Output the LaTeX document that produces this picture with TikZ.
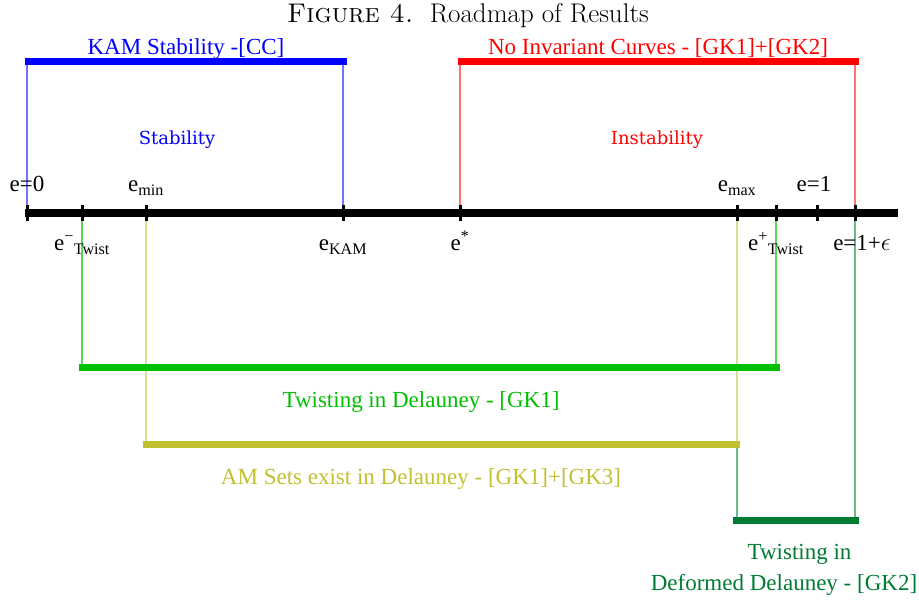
\documentclass[tikz,border=0pt]{standalone}
\usepackage{fontspec}
\setmainfont{Liberation Serif}
\newfontfamily\zonefont{DejaVu Serif}
\usepackage{tikz}
\usetikzlibrary{positioning,calc}
\definecolor{KamBlue}{RGB}{0,0,255}
\definecolor{InvRed}{RGB}{255,0,0}
\definecolor{TwistGreen}{RGB}{0,192,0}
\definecolor{AmOlive}{RGB}{192,192,48}
\definecolor{DeepGreen}{RGB}{0,124,50}
\newcommand{\labsize}{\fontsize{23}{31}\selectfont}

\begin{document}
\begin{tikzpicture}[x=1pt,y=-1pt,
  bar/.style={line width=7pt},
  link/.style={line width=1.4pt},
  tickmark/.style={line width=3pt},
  axlbl/.style={font=\labsize,inner sep=0pt,anchor=base},
  barlbl/.style={font=\labsize,inner sep=0pt,anchor=base,align=center}]
\useasboundingbox (0,0) rectangle (919,601);
\node[inner sep=0pt,anchor=base] (title) at (468,23)
  {\fontfamily{lmr}\selectfont\fontsize{27}{31}\selectfont\textsc{Figure 4.}\ \ Roadmap of Results};

% the axis
\coordinate (axL) at (25,213);
\coordinate (axR) at (898,213);
\foreach \n/\x in {t0/27,tw/82,tmin/146,tkam/343,tst/460,tmax/737,tpw/776,tone/817,teps/855}
  \coordinate (\n) at (\x,213);

% bars
\coordinate (kamL) at (25,62);   \coordinate (kamR) at (347,62);
\coordinate (invL) at (458,62);  \coordinate (invR) at (859,62);
\coordinate (twL) at (79,368);   \coordinate (twR) at (780,368);
\coordinate (amL) at (143,445);  \coordinate (amR) at (740,445);
\coordinate (dfL) at (733,521);  \coordinate (dfR) at (859,521);

% links from the axis to the bars
\draw[link,KamBlue!55] (t0) -- (t0 |- kamL);
\draw[link,KamBlue!55] (tkam) -- (tkam |- kamR);
\draw[link,InvRed!55] (tst) -- (tst |- invL);
\draw[link,InvRed!55] (teps) -- (teps |- invR);
\draw[link,TwistGreen!65] (tw) -- (tw |- twL);
\draw[link,TwistGreen!65] (tpw) -- (tpw |- twR);
\draw[link,DeepGreen!55] (tmax) -- (tmax |- dfL);
\draw[link,DeepGreen!55] (teps) -- (teps |- dfR);
\draw[link,AmOlive!55] (tmin) -- (tmin |- amL);
\draw[link,AmOlive!55] (tmax) -- (tmax |- amR);

\draw[bar,KamBlue] (kamL) -- (kamR);
\draw[bar,InvRed] (invL) -- (invR);
\draw[bar,TwistGreen] (twL) -- (twR);
\draw[bar,AmOlive] (amL) -- (amR);
\draw[bar,DeepGreen] (dfL) -- (dfR);

\draw[line width=8pt] (axL) -- (axR);
\foreach \n in {t0,tw,tmin,tkam,tst,tmax,tpw,tone,teps}
  \draw[tickmark] ([yshift=8pt]\n) -- ([yshift=-8pt]\n);

% axis labels
\node[axlbl] (l0) at ([yshift=21pt]t0) {e=0};
\node[axlbl] (lmin) at ([yshift=21pt]tmin) {e\textsubscript{min}};
\node[axlbl] (lmax) at ([yshift=21pt]tmax) {e\textsubscript{max}};
\node[axlbl] (lone) at ([yshift=21pt,xshift=-3pt]tone) {e=1};
\node[axlbl] (lw) at ([yshift=-38pt]tw) {e\textsuperscript{−}\textsubscript{Twist}};
\node[axlbl] (lkam) at ([yshift=-38pt]tkam) {e\textsubscript{KAM}};
\node[axlbl] (lst) at ([yshift=-38pt]tst) {e\textsuperscript{*}};
\node[axlbl] (lpw) at ([yshift=-38pt]tpw) {e\textsuperscript{+}\textsubscript{Twist}};
\node[axlbl] (leps) at ([yshift=-38pt,xshift=7pt]teps) {e=1+$\epsilon$};

% bar labels
\node[barlbl,text=KamBlue] (kam) at (186,55) {KAM Stability -[CC]};
\node[barlbl,text=InvRed] (inv) at (658,55) {No Invariant Curves - [GK1]+[GK2]};
\node[inner sep=0pt,anchor=base,font=\zonefont\fontsize{18}{22}\selectfont,text=KamBlue] (stab) at (177,145) {Stability};
\node[inner sep=0pt,anchor=base,font=\zonefont\fontsize{18}{22}\selectfont,text=InvRed] (instab) at (657,145) {Instability};
\node[barlbl,text=TwistGreen] (twist) at (421,408) {Twisting in Delauney - [GK1]};
\node[barlbl,text=AmOlive] (am) at (421,485) {AM Sets exist in Delauney - [GK1]+[GK3]};
\node[barlbl,text=DeepGreen,anchor=north] (deform) at (784,544) {\hspace*{31pt}Twisting in\\Deformed Delauney - [GK2]};
\end{tikzpicture}
\end{document}
